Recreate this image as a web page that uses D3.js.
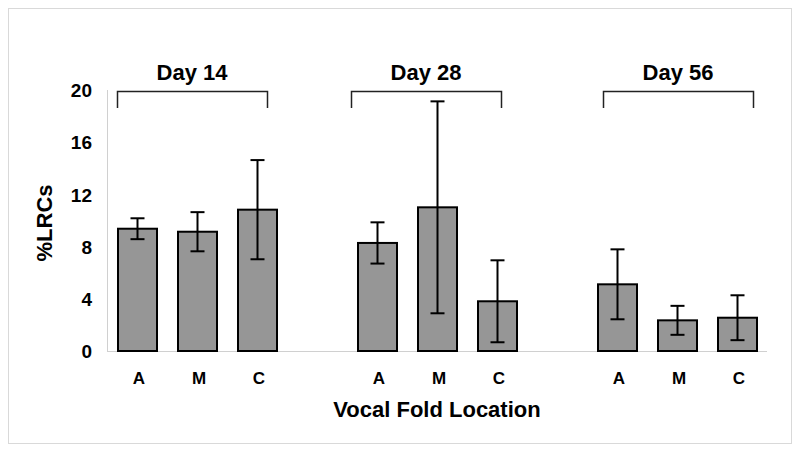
<!DOCTYPE html>
<html>
<head>
<meta charset="utf-8">
<script src="https://cdn.jsdelivr.net/npm/d3@7"></script>
<style>
  html, body { margin: 0; padding: 0; background: #fff; }
  svg { display: block; font-family: "Liberation Sans", Arial, sans-serif; }
</style>
</head>
<body>
<svg id="chart" width="800" height="451"></svg>
<script>
// ---- data ----
const groups = ["Day 14", "Day 28", "Day 56"];
const locations = ["A", "M", "C"];
const means = [
  [9.37, 9.14, 10.83],
  [8.28, 11.01, 3.81],
  [5.11, 2.35, 2.55]
];
const errors = [
  [0.80, 1.50, 3.80],
  [1.58, 8.12, 3.14],
  [2.68, 1.11, 1.72]
];
const yTicks = [0, 4, 8, 12, 16, 20];
const yTitle = "%LRCs";
const xTitle = "Vocal Fold Location";

// ---- layout ----
const W = 800, H = 451;
const svg = d3.select("#chart");
const bracketShift = [0, -6, 6]; // px relative to first bar's left edge

// slot domain with gaps between groups
const slots = [];
groups.forEach((g, gi) => {
  locations.forEach(l => slots.push(g + "|" + l));
  if (gi < groups.length - 1) slots.push("gap" + gi);
});

const x = d3.scaleBand().domain(slots).range([107, 767])
  .paddingInner(1 / 3).paddingOuter(1 / 6);
const y = d3.scaleLinear().domain([0, 20]).range([351, 90]);

// outer border
svg.append("rect").attr("x", 8.5).attr("y", 8.5).attr("width", 783).attr("height", 435)
  .attr("fill", "#fff").attr("stroke", "#d9d9d9").attr("stroke-width", 1);

// axes lines (light gray)
svg.append("line").attr("x1", 107.5).attr("x2", 107.5).attr("y1", y(20)).attr("y2", y(0))
  .attr("stroke", "#d0d0d0").attr("stroke-width", 1);
svg.append("line").attr("x1", 107).attr("x2", 767).attr("y1", y(0) + 0.5).attr("y2", y(0) + 0.5)
  .attr("stroke", "#d0d0d0").attr("stroke-width", 1);

// y tick labels
const yAxis = d3.axisLeft(y).tickValues(yTicks).tickSize(0).tickPadding(0);
const yg = svg.append("g").attr("transform", "translate(92,0)").call(yAxis);
yg.select(".domain").remove();
yg.selectAll("text")
  .attr("font-size", 19).attr("font-weight", "bold").attr("fill", "#000")
  .attr("font-family", "Liberation Sans, Arial, sans-serif")
  .attr("dy", "0.35em");

// data records
const records = [];
groups.forEach((g, gi) => locations.forEach((l, li) => {
  records.push({ key: g + "|" + l, loc: l, v: means[gi][li], e: errors[gi][li] });
}));

// bars
svg.append("g").selectAll("rect").data(records).join("rect")
  .attr("x", d => x(d.key) + 1)
  .attr("y", d => y(d.v))
  .attr("width", x.bandwidth() - 1)
  .attr("height", d => y(0) - y(d.v))
  .attr("fill", "#969696").attr("stroke", "#000").attr("stroke-width", 2);

// error bars
const cap = 7;
const eg = svg.append("g").attr("stroke", "#000").attr("stroke-width", 2);
records.forEach(d => {
  const cx = x(d.key) + x.bandwidth() / 2 + 0.5;
  eg.append("line").attr("x1", cx).attr("x2", cx).attr("y1", y(d.v + d.e)).attr("y2", y(d.v - d.e));
  eg.append("line").attr("x1", cx - cap).attr("x2", cx + cap).attr("y1", y(d.v + d.e)).attr("y2", y(d.v + d.e));
  eg.append("line").attr("x1", cx - cap).attr("x2", cx + cap).attr("y1", y(d.v - d.e)).attr("y2", y(d.v - d.e));
});

// x category labels
svg.append("g").selectAll("text").data(records).join("text")
  .attr("x", d => x(d.key) + x.bandwidth() / 2 + 2)
  .attr("y", 384)
  .attr("text-anchor", "middle")
  .attr("font-size", 17).attr("font-weight", "bold")
  .text(d => d.loc);

// group brackets and labels
const step = x.step();
groups.forEach((g, gi) => {
  const left = x(g + "|" + locations[0]) + bracketShift[gi];
  const right = left + step * 2.5;
  const top = 91, bottom = 108;
  svg.append("path")
    .attr("d", `M${left + 0.5},${bottom}V${top + 0.5}H${right + 0.5}V${bottom}`)
    .attr("fill", "none").attr("stroke", "#222").attr("stroke-width", 1.5);
  svg.append("text")
    .attr("x", (left + right) / 2)
    .attr("y", 80)
    .attr("text-anchor", "middle")
    .attr("font-size", 22).attr("font-weight", "bold")
    .text(g);
});

// axis titles
svg.append("text")
  .attr("transform", "translate(52,223) rotate(-90)")
  .attr("text-anchor", "middle")
  .attr("font-size", 22).attr("font-weight", "bold")
  .text(yTitle);
svg.append("text")
  .attr("x", 437).attr("y", 417)
  .attr("text-anchor", "middle")
  .attr("font-size", 22).attr("font-weight", "bold")
  .text(xTitle);
</script>
</body>
</html>
